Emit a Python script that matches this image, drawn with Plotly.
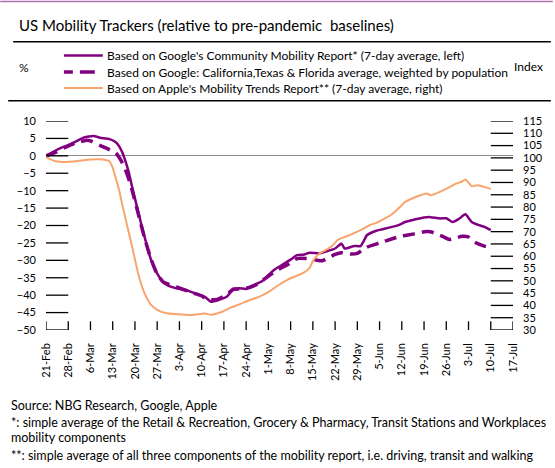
import pandas as pd
import plotly.graph_objects as go

START = "2020-02-21"
END = "2020-07-17"

# Google Community Mobility (7-day avg, % vs baseline, left axis)
google_days = [0,2,4,7,10,12,15,17,20,22,23,24,25,26,27,29,31,33,35,37,39,41,44,47,50,52,54,57,59,61,63,65,68,70,72,75,77,79,81,83,86,88,91,93,94,97,99,100,101,104,108,111,113,116,119,121,124,126,128,130,132,134,136,138,140]
google_vals = [0,1.0,2.0,3.1,4.4,5.3,5.7,5.2,4.8,3.9,2.8,1.0,-1.5,-4.5,-8.5,-16.0,-23.2,-29.7,-33.8,-36.3,-37.5,-38.0,-38.5,-39.5,-40.5,-41.9,-41.5,-40.4,-38.2,-38.0,-38.2,-37.2,-36.0,-34.2,-32.6,-30.9,-29.8,-28.5,-28.4,-27.8,-28.0,-27.5,-26.6,-25.2,-26.6,-25.9,-25.9,-24.5,-22.8,-21.5,-20.6,-19.9,-19.0,-18.3,-17.7,-17.6,-18.0,-17.9,-19.0,-18.1,-16.8,-19.0,-19.8,-20.4,-21.3]

# Google: CA, TX & FL population-weighted average (left axis)
states_days = [0,3,6,9,13,14,17,19,22,23,24,25,26,27,29,31,33,35,37,40,43,46,49,51,54,57,59,62,64,66,69,72,74,76,79,82,85,87,89,91,93,96,98,101,105,109,112,116,119,121,123,125,127,129,131,133,135,138,140]
states_vals = [0,1.0,2.4,3.6,4.5,4.3,3.0,2.2,0.8,-0.4,-2.0,-4.0,-6.5,-9.5,-16.5,-23.5,-29.5,-34.0,-36.3,-37.3,-38.3,-39.3,-40.2,-41.3,-41.2,-39.8,-38.3,-38.2,-37.8,-37.1,-35.2,-33.3,-32.2,-31.3,-29.5,-29.5,-29.9,-30.1,-29.2,-28.3,-27.8,-28.2,-28.0,-26.2,-25.0,-23.8,-23.0,-22.4,-21.8,-21.8,-22.4,-23.2,-24.0,-23.6,-23.1,-23.3,-24.8,-25.9,-26.3]

# Apple Mobility Trends (7-day avg, index, right axis)
apple_days = [0,3,6,10,14,18,20,21,22,23,24,26,27,29,30,31,33,35,38,42,46,50,52,55,58,61,64,67,70,73,76,79,81,83,84,86,88,90,92,95,99,102,104,107,109,111,113,116,120,121,124,127,129,131,132,134,136,138,140]
apple_vals = [100.3,98.6,98.3,98.7,99.3,99.3,98.5,96.0,91.5,87.0,81.0,70.0,64.5,53.0,48.5,45.0,40.3,38.2,36.8,36.4,36.1,36.7,36.2,37.2,39.0,40.5,42.1,43.5,45.4,48.1,50.4,52.1,53.2,55.3,58.0,61.0,62.5,64.2,66.8,68.3,70.6,72.7,73.6,75.6,77.2,79.5,82.0,83.9,85.5,84.8,86.2,88.1,89.5,90.4,91.2,88.5,88.9,88.2,87.3]

tick_dates = pd.date_range(START, END, freq="7D")
LEFT_RANGE = [-50, 10]
RIGHT_RANGE = [30, 115]
left_ticks = list(range(-50, 11, 5))
right_ticks = list(range(30, 116, 5))

names = [
    "Based on Google's Community Mobility Report* (7-day average, left)",
    "Based on Google: California,Texas &amp; Florida average, weighted by population",
    "Based on Apple's Mobility Trends Report** (7-day average, right)",
]

def to_dates(days):
    return pd.Timestamp(START) + pd.to_timedelta(days, unit="D")

PURPLE = "#800080"
ORANGE = "#F8A46C"
FONT = "Lato"
DASH = "12px,7px"

fig = go.Figure()
fig.add_trace(go.Scatter(x=to_dates(google_days), y=google_vals, name=names[0], mode="lines",
                         line=dict(color=PURPLE, width=2.5, shape="spline", smoothing=0.5)))
fig.add_trace(go.Scatter(x=to_dates(states_days), y=states_vals, name=names[1], mode="lines",
                         line=dict(color=PURPLE, width=3.5, dash=DASH, shape="spline", smoothing=0.5)))
fig.add_trace(go.Scatter(x=to_dates(apple_days), y=apple_vals, name=names[2], mode="lines", yaxis="y2",
                         line=dict(color=ORANGE, width=2, shape="spline", smoothing=0.5)))

# Tick marks drawn as line traces (left ticks across the first week, right ticks across
# the last week, short vertical marks for each weekly date)
TICK = dict(color="black", width=1.3)
lx, ly = [], []
for v in left_ticks:
    lx += [tick_dates[0], tick_dates[1], None]
    ly += [v, v, None]
for d in tick_dates:
    lx += [d, d, None]
    ly += [LEFT_RANGE[0], LEFT_RANGE[0] + 2.5, None]
rx, ry = [], []
for v in right_ticks:
    rx += [tick_dates[-2], tick_dates[-1], None]
    ry += [v, v, None]
fig.add_trace(go.Scatter(x=lx, y=ly, mode="lines", line=TICK, hoverinfo="skip",
                         showlegend=False, cliponaxis=False, connectgaps=False))
fig.add_trace(go.Scatter(x=rx, y=ry, mode="lines", line=TICK, hoverinfo="skip", yaxis="y2",
                         showlegend=False, cliponaxis=False, connectgaps=False))

W, H = 555, 468
L, R, T, B = 46, 40, 121, 138
pw = W - L - R
ph = H - T - B

def px(x):
    return (x - L) / pw

def py(y):
    return 1 - (y - T) / ph

fig.update_layout(
    width=W, height=H,
    margin=dict(l=L, r=R, t=T, b=B),
    paper_bgcolor="white", plot_bgcolor="rgba(0,0,0,0)",
    font=dict(family=FONT, size=11, color="black"),
    showlegend=False,
    xaxis=dict(type="date", range=[START, END], tickvals=tick_dates,
               tickformat="%-d-%b", tickangle=-90, ticks="",
               showline=False, showgrid=False,
               zeroline=False, tickfont=dict(size=11), ticklabelstandoff=10),
    yaxis=dict(range=LEFT_RANGE, tickvals=left_ticks, ticks="", showline=False, showgrid=False,
               zeroline=True, zerolinecolor="#8c8c8c", zerolinewidth=1.2,
               tickfont=dict(size=11), ticklabelstandoff=9),
    yaxis2=dict(range=RIGHT_RANGE, tickvals=right_ticks, overlaying="y", side="right",
                ticks="", showline=False, showgrid=False, zeroline=False,
                tickfont=dict(size=11), ticklabelstandoff=9),
)

shapes = [
    dict(type="line", xref="paper", yref="paper", x0=px(0), x1=px(W), y0=py(1.5), y1=py(1.5),
         line=dict(color="#B070B0", width=1.5)),
    dict(type="line", xref="paper", yref="paper", x0=px(13), x1=px(553), y0=py(41.7), y1=py(41.7),
         line=dict(color="black", width=1.6)),
    dict(type="line", xref="paper", yref="paper", x0=px(8), x1=px(553), y0=py(100.7), y1=py(100.7),
         line=dict(color="black", width=1.6)),
    # legend keys
    dict(type="line", xref="paper", yref="paper", x0=px(64), x1=px(103), y0=py(55.5), y1=py(55.5),
         line=dict(color=PURPLE, width=2.5)),
    dict(type="line", xref="paper", yref="paper", x0=px(64), x1=px(73), y0=py(72), y1=py(72),
         line=dict(color=PURPLE, width=3.5)),
    dict(type="line", xref="paper", yref="paper", x0=px(80), x1=px(95), y0=py(72), y1=py(72),
         line=dict(color=PURPLE, width=3.5)),
    dict(type="line", xref="paper", yref="paper", x0=px(64), x1=px(103), y0=py(88), y1=py(88),
         line=dict(color=ORANGE, width=2)),
]
fig.update_layout(shapes=shapes)

def ann(text, x, y, size=12, anchor="left"):
    fig.add_annotation(text=text, x=px(x), y=py(y), xref="paper", yref="paper",
                       xanchor=anchor, yanchor="middle", showarrow=False,
                       font=dict(size=size, family=FONT, color="black"))

ann("US Mobility Trackers (relative to pre-pandemic  baselines)", 17, 25, size=15)
for i, yy in enumerate([55.5, 72, 88]):
    ann(names[i], 105, yy, size=12)
ann("%", 17, 68)
ann("Index", 514, 66)
ann("Source: NBG Research, Google, Apple", 9, 405, size=12.5)
ann("*: simple average of the Retail &amp; Recreation, Grocery &amp; Pharmacy, Transit Stations and Workplaces", 9, 422, size=12.5)
ann("mobility components", 9, 437, size=12.5)
ann("**: simple average of all three components of the mobility report, i.e. driving, transit and walking", 9, 455, size=12.5)

fig.write_html("out.html", config={"displayModeBar": False},
               post_script="document.body.style.margin='0px';")
